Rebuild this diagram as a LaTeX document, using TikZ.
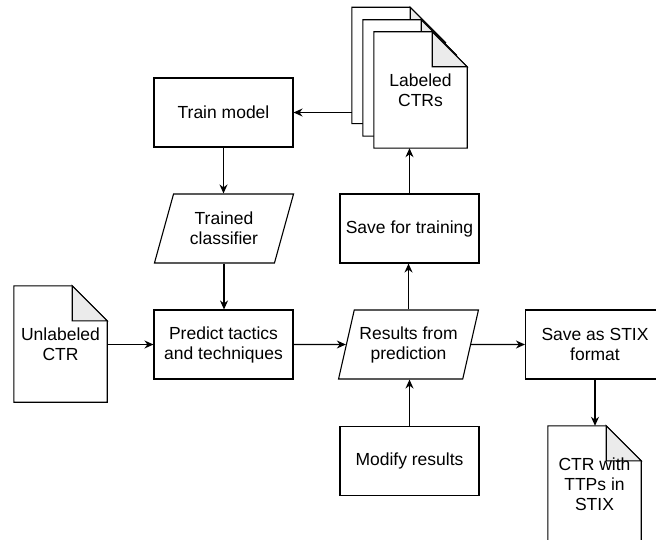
\documentclass[tikz,border=0pt]{standalone}
\usepackage{fontspec}
\setmainfont{Liberation Sans}
\usetikzlibrary{arrows.meta,shapes.geometric}
\pgfdeclarelayer{background}
\pgfsetlayers{background,main}
\definecolor{foldgray}{HTML}{EBEBEB}

% folded-corner document outline behind a named node
\newcommand\docoutline[1]{%
  \begin{pgfonlayer}{background}
    \filldraw[line, fill=white] (#1.south west) -- (#1.north west)
      -- ([xshift=-35pt]#1.north east) -- ([yshift=-35pt]#1.north east)
      -- (#1.south east) -- cycle;
    \filldraw[line, fill=foldgray] ([xshift=-35pt]#1.north east)
      -- ([xshift=-35pt,yshift=-35pt]#1.north east)
      -- ([yshift=-35pt]#1.north east) -- cycle;
  \end{pgfonlayer}}

\tikzset{
  line/.style={draw=black, line width=1.1pt, line join=miter},
  label/.style={font=\fontsize{17.5}{20}\selectfont, align=center, text=black},
  process/.style={label, line, rectangle, minimum width=139pt, minimum height=69pt, inner sep=2pt},
  data/.style={label, line, trapezium, trapezium left angle=68.6, trapezium right angle=111.4,
    trapezium stretches=true, minimum width=140pt, minimum height=69pt, inner sep=0pt},
  docnode/.style={label, minimum width=93pt, minimum height=116pt, inner sep=0pt},
  arr/.style={line, -{Stealth[length=9pt,width=8pt]}},
}

\begin{document}
\begin{tikzpicture}[x=1pt,y=-1pt]
\useasboundingbox (0,0) rectangle (656,540);

% processes
\node[process] (train)  at (223.5,112.5) {Train model};
\node[process] (pred)   at (223.5,344.5) {Predict tactics\\and techniques};
\node[process] (save)   at (409.5,228.5) {Save for training};
\node[process] (modify) at (409.5,461)   {Modify results};
\node[process] (stix)   at (595,344.5)   {Save as STIX\\format};

% data
\node[data] (cls) at (224,228.5) {Trained\\classifier};
\node[data] (res) at (408.5,344.5) {Results from\\prediction};

% documents
\node[docnode] (unl)    at (60.5,344) {Unlabeled\\CTR};
\node[docnode] (stackA) at (398.5,65.5) {};
\node[docnode] (stackB) at (409.5,78) {};
\node[docnode] (stackC) at (420.5,90) {Labeled\\CTRs};
\node[docnode] (outdoc) at (594.5,484) {CTR with\\TTPs in\\STIX};
\docoutline{unl}
\docoutline{stackA}
\docoutline{stackB}
\docoutline{stackC}
\docoutline{outdoc}

% connectors
\draw[arr] (train.east -| stackA.west) -- (train.east);
\draw[arr] (train.south) -- (train.south |- cls.north);
\draw[arr] (cls.south) -- (cls.south |- pred.north);
\draw[arr] (unl.east |- pred.west) -- (pred.west);
\draw[arr] (pred.east) -- (res);
\draw[arr] (res) -- (stix.west);
\draw[arr] (res.north) -- (res.north |- save.south);
\draw[arr] (save.north) -- (save.north |- stackC.south);
\draw[arr] (modify.north) -- (modify.north |- res.south);
\draw[arr] (stix.south) -- (stix.south |- outdoc.north);
\end{tikzpicture}
\end{document}
